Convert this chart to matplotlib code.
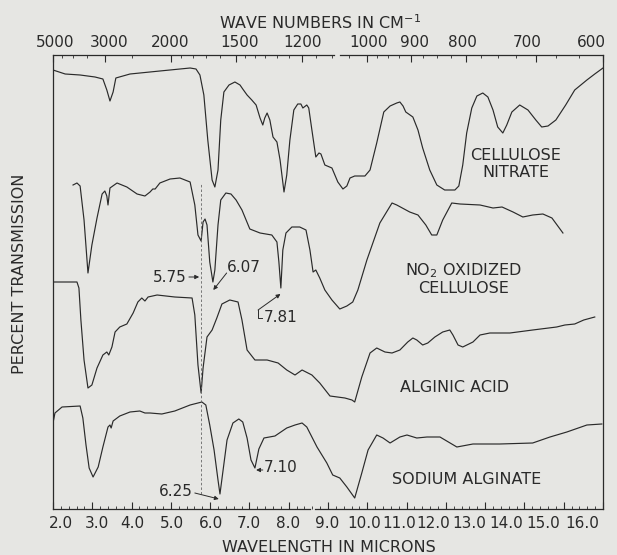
import numpy as np
import matplotlib.pyplot as plt

# Spektra lest av bildet: bolgelengd (mikron) og transmisjon (vilkarleg eining, forskuva)
nitrate_um = [2.00, 2.31, 2.69, 3.07, 3.27, 3.37, 3.45, 3.53, 3.60, 3.96, 4.72, 5.49, 5.64, 5.74, 5.84, 5.94,
              6.05, 6.12, 6.20, 6.27, 6.35, 6.48, 6.63, 6.76, 6.83, 6.94, 7.06, 7.17, 7.27, 7.34, 7.39, 7.45,
              7.52, 7.60, 7.70, 7.78, 7.88, 7.95, 8.03, 8.13, 8.23, 8.31, 8.36, 8.46, 8.51, 8.59, 8.69, 8.77,
              8.82, 8.92, 9.10, 9.25, 9.38, 9.48, 9.56, 9.68, 9.94, 10.07, 10.24, 10.42, 10.58, 10.75, 10.83,
              10.91, 10.98, 11.16, 11.29, 11.41, 11.59, 11.77, 11.97, 12.23, 12.33, 12.43, 12.53, 12.66, 12.79,
              12.94, 13.07, 13.20, 13.32, 13.45, 13.55, 13.68, 13.88, 14.09, 14.29, 14.44, 14.60, 14.80, 15.05,
              15.28, 15.59, 15.79, 16.00]
nitrate_t = [439, 435, 434, 432, 430, 419, 408, 417, 431, 435, 438, 441, 440, 434, 414, 369,
             329, 322, 339, 389, 417, 424, 427, 424, 420, 414, 409, 404, 391, 384, 391, 396,
             389, 372, 367, 349, 317, 334, 369, 399, 405, 405, 401, 404, 401, 379, 352, 356,
             355, 344, 341, 327, 320, 323, 331, 333, 333, 339, 366, 397, 403, 406, 407,
             403, 397, 392, 379, 361, 339, 324, 319, 319, 323, 344, 376, 401, 413,
             416, 412, 399, 382, 376, 384, 397, 404, 399, 389, 382, 383, 389, 404,
             419, 429, 435, 441]

no2_um = [2.51, 2.61, 2.69, 2.79, 2.89, 2.99, 3.12, 3.25, 3.32, 3.37, 3.40, 3.45, 3.63, 3.88, 4.14, 4.34,
          4.47, 4.54, 4.60, 4.72, 4.98, 5.23, 5.49, 5.61, 5.69, 5.77, 5.82, 5.87, 5.92, 5.99, 6.07, 6.12,
          6.20, 6.27, 6.40, 6.53, 6.66, 6.81, 7.01, 7.27, 7.57, 7.70, 7.75, 7.80, 7.85, 7.93, 8.08, 8.28,
          8.44, 8.54, 8.62, 8.69, 8.79, 8.92, 9.10, 9.30, 9.48, 9.63, 9.76, 9.99, 10.32, 10.63, 10.75,
          11.08, 11.29, 11.49, 11.64, 11.77, 11.92, 12.15, 12.36, 12.87, 13.20, 13.43, 13.71, 13.96,
          14.21, 14.47, 14.70, 14.98]
no2_t = [324, 326, 323, 289, 236, 264, 291, 315, 318, 313, 304, 321, 326, 322, 315, 313,
         317, 320, 320, 326, 330, 331, 327, 304, 274, 268, 287, 290, 284, 247, 227, 239,
         284, 309, 316, 315, 309, 299, 280, 276, 274, 267, 247, 221, 259, 276, 282, 282,
         279, 259, 237, 239, 231, 219, 209, 200, 203, 207, 219, 249, 286, 306, 304,
         297, 294, 284, 274, 274, 289, 306, 305, 304, 301, 302, 297, 292,
         294, 295, 291, 276]

alginic_um = [2.00, 2.61, 2.66, 2.71, 2.79, 2.89, 2.99, 3.12, 3.27, 3.37, 3.42, 3.50, 3.58, 3.70, 3.88, 4.04,
              4.16, 4.26, 4.34, 4.42, 4.65, 5.10, 5.54, 5.61, 5.69, 5.77, 5.82, 5.92, 6.05, 6.17, 6.30, 6.50,
              6.71, 6.81, 6.94, 7.14, 7.45, 7.73, 7.95, 8.16, 8.34, 8.59, 8.79, 9.05, 9.43, 9.61, 9.68, 9.86,
              10.07, 10.24, 10.45, 10.63, 10.83, 11.03, 11.16, 11.26, 11.41, 11.54, 11.72, 11.92, 12.10,
              12.18, 12.31, 12.43, 12.69, 12.87, 13.12, 13.63, 14.21, 14.82, 15.03, 15.28, 15.51, 15.79]
alginic_t = [227, 227, 221, 189, 149, 121, 124, 141, 154, 157, 154, 162, 177, 182, 185, 196,
             207, 211, 208, 212, 214, 212, 211, 194, 144, 116, 141, 172, 179, 191, 205, 209,
             207, 189, 159, 149, 149, 146, 139, 134, 139, 134, 126, 113, 111, 109, 107, 132,
             156, 161, 157, 156, 159, 167, 171, 169, 164, 166, 172, 177, 179,
             174, 164, 162, 167, 174, 176, 176, 179, 182, 184, 185, 189, 192]

sodium_um = [2.00, 2.05, 2.23, 2.69, 2.76, 2.84, 2.92, 3.02, 3.15, 3.27, 3.40, 3.45, 3.48, 3.53, 3.70, 3.96,
             4.21, 4.34, 4.47, 4.77, 5.10, 5.49, 5.79, 5.89, 5.99, 6.10, 6.20, 6.25, 6.33, 6.43, 6.58, 6.73,
             6.83, 6.94, 7.04, 7.14, 7.24, 7.37, 7.65, 7.80, 7.95, 8.16, 8.34, 8.46, 8.72, 8.97, 9.12, 9.30,
             9.48, 9.68, 9.86, 10.02, 10.24, 10.40, 10.58, 10.83, 11.01, 11.26, 11.52, 11.85, 12.28, 12.69,
             13.37, 14.21, 14.65, 15.08, 15.59, 15.97]
sodium_t = [86, 96, 102, 103, 91, 64, 41, 32, 42, 62, 82, 84, 81, 88, 93, 97,
            98, 96, 96, 95, 98, 104, 107, 104, 84, 59, 29, 15, 39, 69, 86, 90,
            87, 71, 49, 41, 60, 71, 73, 77, 81, 84, 86, 82, 62, 46, 34, 31,
            22, 11, 36, 59, 74, 71, 66, 72, 74, 71, 72, 72, 62, 65,
            65, 66, 72, 77, 84, 85]

# Aksetekstar
micron_labels = ['2.0', '3.0', '4.0', '5.0', '6.0', '7.0', '8.0', '9.0', '10.0', '11.0',
                 '12.0', '13.0', '14.0', '15.0', '16.0']
micron_label_pos = [2.20, 3.12, 4.01, 5.03, 6.02, 6.99, 7.98, 8.97, 9.91, 10.80,
                    11.67, 12.59, 13.53, 14.49, 15.46]
wn_labels = ['5000', '3000', '2000', '1500', '1200', '1000', '900', '800', '700', '600']
wn_label_pos = [2.05, 3.42, 4.98, 6.76, 8.34, 10.04, 11.21, 12.41, 14.06, 15.71]
wn_minor = [4500, 4000, 3500, 2500, 1900, 1800, 1700, 1600, 1450, 1400, 1350, 1300, 1250,
            1150, 1100, 1050, 975, 950, 925, 875, 850, 825, 775, 750, 725, 675, 650]

ink = '#2a2a2a'
bg = '#e6e6e3'

fig = plt.figure(figsize=(6.17, 5.55), dpi=100)
fig.patch.set_facecolor(bg)
ax = fig.add_axes([53/617, 1 - 509/555, 550/617, 454/555])
ax.set_facecolor(bg)
ax.set_xlim(2, 16)
ax.set_ylim(0, 454)

# Spektra
for um, t in [(nitrate_um, nitrate_t), (no2_um, no2_t), (alginic_um, alginic_t), (sodium_um, sodium_t)]:
    ax.plot(um, t, color=ink, lw=0.85, solid_joinstyle='round')

# Stipla linje ved 5.75
ax.vlines(5.76, 15, 326, colors='#666666', linestyles=(0, (3, 2.5)), lw=0.6)

# Ramme med brot i topp- og botnlinja
for a in ['top', 'bottom']:
    ax.spines[a].set_visible(False)
for a in ['left', 'right']:
    ax.spines[a].set_color(ink)
    ax.spines[a].set_linewidth(0.9)
xt = ax.get_xaxis_transform()
for x0, x1, y in [(2, 8.54, 0), (8.67, 16, 0), (2, 9.15, 1), (9.30, 16, 1)]:
    ax.plot([x0, x1], [y, y], color=ink, lw=0.9, transform=xt, clip_on=False)

# Botnakse (mikron)
ax.set_xticks(np.arange(2, 17, 1))
ax.set_xticks(np.arange(2, 16.01, 0.2), minor=True)
ax.set_yticks([])
ax.tick_params(axis='x', which='both', direction='in', color=ink, labelbottom=False)
ax.tick_params(axis='x', which='major', length=5, width=0.8)
ax.tick_params(axis='x', which='minor', length=2.5, width=0.6)
for lab, pos in zip(micron_labels, micron_label_pos):
    ax.text(pos, -0.033, lab, transform=xt, ha='center', va='center', fontsize=11, color=ink)

# Toppakse (bolgetal)
top = ax.twiny()
top.set_xlim(2, 16)
for s in top.spines.values():
    s.set_visible(False)
top.set_xticks([1e4 / v for v in [5000, 3000, 2000, 1500, 1200, 1000, 900, 800, 700]] + [16.0])
top.set_xticks([1e4 / v for v in wn_minor], minor=True)
top.tick_params(axis='x', which='both', direction='in', color=ink, labeltop=False)
top.tick_params(axis='x', which='major', length=5, width=0.8)
top.tick_params(axis='x', which='minor', length=2.5, width=0.6)
for lab, pos in zip(wn_labels, wn_label_pos):
    ax.text(pos, 1.0286, lab, transform=xt, ha='center', va='center', fontsize=11, color=ink)

# Aksetitlar
fig.text(320/617, 1 - 23/555, 'WAVE NUMBERS IN CM$^{-1}$', ha='center', va='center', fontsize=11.5, color=ink)
fig.text(329/617, 1 - 547/555, 'WAVELENGTH IN MICRONS', ha='center', va='center', fontsize=11.5, color=ink)
fig.text(20/617, 1 - 274/555, 'PERCENT TRANSMISSION', ha='center', va='center', rotation=90,
         fontsize=11.5, color=ink)

# Namn pa spektra
ax.text(13.78, 345, 'CELLULOSE\nNITRATE', ha='center', va='center', fontsize=11.5, color=ink, linespacing=1.1)
ax.text(12.46, 230, 'NO$_2$ OXIDIZED\nCELLULOSE', ha='center', va='center', fontsize=11.5, color=ink,
        linespacing=1.1)
ax.text(12.23, 121, 'ALGINIC ACID', ha='center', va='center', fontsize=11.5, color=ink)
ax.text(12.53, 29, 'SODIUM ALGINATE', ha='center', va='center', fontsize=11.5, color=ink)

# Merknader for toppar
arr = dict(arrowstyle='-|>', color=ink, lw=0.7, mutation_scale=6, shrinkA=0, shrinkB=0)
ax.text(5.41, 232, '5.75', ha='right', va='center', fontsize=11, color=ink)
ax.annotate('', xy=(5.72, 232), xytext=(5.46, 232), arrowprops=arr)
ax.text(6.43, 241, '6.07', ha='left', va='center', fontsize=11, color=ink)
ax.annotate('', xy=(6.08, 219), xytext=(6.42, 236), arrowprops=arr)
ax.plot([7.32, 7.22, 7.22], [191, 191, 199], color=ink, lw=0.7)
ax.annotate('', xy=(7.79, 215), xytext=(7.22, 199), arrowprops=arr)
ax.text(7.36, 192, '7.81', ha='left', va='center', fontsize=11, color=ink)
ax.annotate('', xy=(7.17, 39), xytext=(7.34, 39), arrowprops=arr)
ax.text(7.36, 42, '7.10', ha='left', va='center', fontsize=11, color=ink)
ax.text(5.56, 18, '6.25', ha='right', va='center', fontsize=11, color=ink)
ax.annotate('', xy=(6.22, 10), xytext=(5.61, 16), arrowprops=arr)

fig.savefig('out.png', dpi=100, facecolor=bg)
